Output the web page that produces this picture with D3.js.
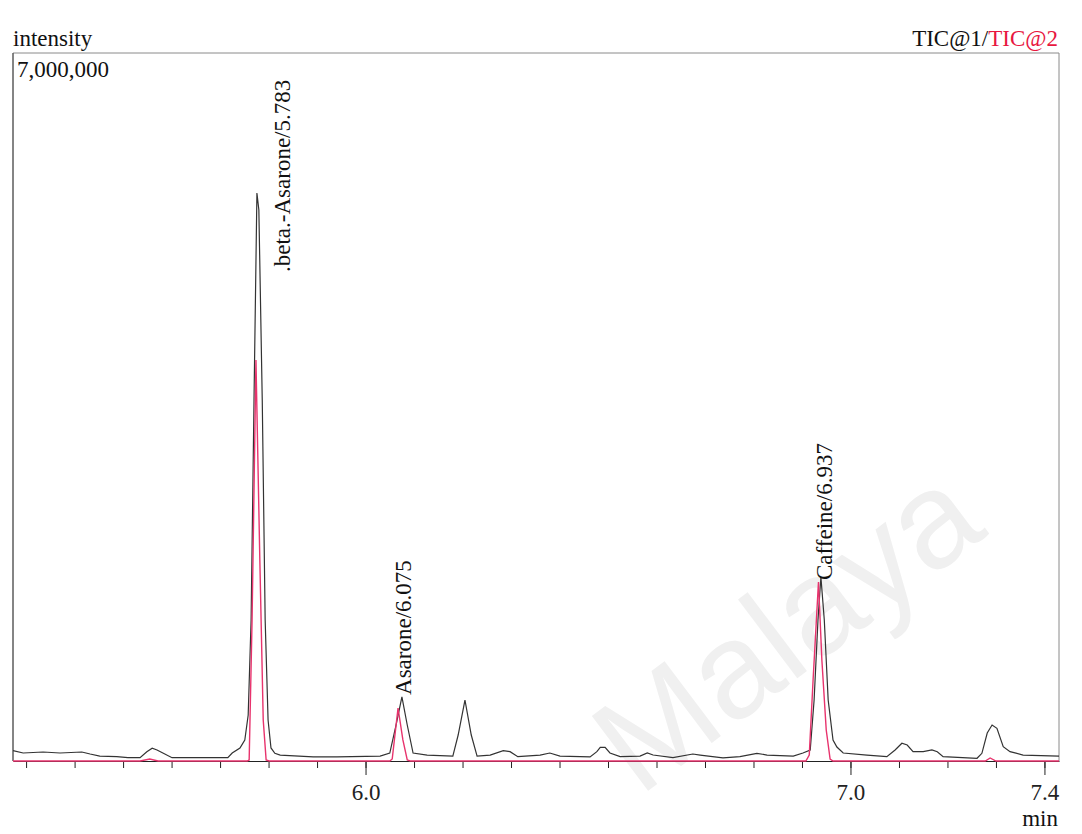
<!DOCTYPE html>
<html>
<head>
<meta charset="utf-8">
<script src="https://d3js.org/d3.v7.min.js"></script>
<style>
  body { margin: 0; background: #fff; }
  text { font-family: "Liberation Serif", "Times New Roman", serif; }
</style>
</head>
<body>
<svg width="1082" height="834"></svg>
<script>
// retention time (min), intensity
var tic1 = [
  [5.273, 102000], [5.294, 79000], [5.335, 89000], [5.370, 79000], [5.415, 89000],
  [5.432, 69000], [5.452, 49000], [5.487, 43000], [5.510, 33000], [5.535, 33000],
  [5.549, 92000], [5.560, 126000], [5.570, 109000], [5.582, 79000], [5.601, 33000],
  [5.652, 33000], [5.716, 33000], [5.725, 79000], [5.741, 129000], [5.751, 208000],
  [5.758, 455000], [5.764, 1394000], [5.770, 3569000], [5.776, 5616000], [5.780, 5448000],
  [5.787, 3569000], [5.793, 1394000], [5.799, 405000], [5.805, 129000], [5.813, 76000],
  [5.824, 59000], [5.892, 40000], [5.941, 40000], [6.030, 49000], [6.050, 79000],
  [6.063, 356000], [6.075, 633000], [6.086, 356000], [6.098, 79000], [6.127, 59000],
  [6.180, 49000], [6.191, 257000], [6.205, 603000], [6.218, 257000], [6.230, 49000],
  [6.257, 59000], [6.284, 102000], [6.298, 92000], [6.314, 43000], [6.360, 59000],
  [6.380, 79000], [6.401, 49000], [6.463, 40000], [6.477, 92000], [6.484, 135000],
  [6.494, 135000], [6.504, 79000], [6.525, 43000], [6.566, 49000], [6.581, 79000],
  [6.593, 59000], [6.634, 33000], [6.675, 69000], [6.690, 59000], [6.737, 30000],
  [6.772, 43000], [6.807, 76000], [6.828, 59000], [6.882, 49000], [6.902, 79000],
  [6.917, 109000], [6.925, 603000], [6.933, 1394000], [6.939, 1819000], [6.946, 1394000],
  [6.954, 603000], [6.964, 208000], [6.972, 138000], [6.985, 79000], [7.034, 59000],
  [7.075, 43000], [7.092, 109000], [7.106, 175000], [7.117, 158000], [7.129, 92000],
  [7.150, 92000], [7.168, 109000], [7.179, 92000], [7.191, 43000], [7.261, 27000],
  [7.271, 76000], [7.282, 277000], [7.292, 356000], [7.302, 323000], [7.315, 141000],
  [7.329, 92000], [7.356, 59000], [7.430, 49000]
];

var tic2 = [
  [5.273, 0], [5.535, 0], [5.555, 20000], [5.572, 0], [5.756, 0],
  [5.760, 10000], [5.766, 1394000], [5.774, 3965000], [5.782, 1987000], [5.789, 405000],
  [5.795, 10000], [5.801, 0], [6.050, 0], [6.055, 20000], [6.067, 524000],
  [6.077, 208000], [6.086, 10000], [6.092, 0], [6.908, 0], [6.915, 59000],
  [6.923, 811000], [6.934, 1770000], [6.941, 999000], [6.950, 306000], [6.958, 20000],
  [6.964, 0], [7.278, 0], [7.288, 30000], [7.300, 0], [7.430, 0]
];

var peakNames = [".beta.-Asarone", "Asarone", "Caffeine"];
var peakTimes = ["5.783", "6.075", "6.937"];
var peakHeights = [5616000, 633000, 1819000];

var majorTicks = [6.0, 7.0, 7.4];
var minorTicks = d3.range(53, 75).map(function(d) { return d / 10; });

function draw() {
  var svg = d3.select('svg');
  var pl = 13, pr = 1059, pt = 53, pb = 761;

  var x = d3.scaleLinear().domain([5.273, 7.43]).range([pl, pr]);
  var y = d3.scaleLinear().domain([0, 7000000]).range([pb, pt]);

  // watermark
  svg.append('text')
    .attr('transform', 'translate(786,628) rotate(-37)')
    .attr('text-anchor', 'middle')
    .attr('dominant-baseline', 'central')
    .style('font-family', '"Liberation Sans", Arial, sans-serif')
    .style('font-size', '136px')
    .attr('fill', '#f0f0f0')
    .text('Malaya');

  // frame
  svg.append('path')
    .attr('d', 'M' + pl + ',' + pb + 'V' + pt + 'H' + pr + 'V' + pb)
    .attr('fill', 'none')
    .attr('stroke', '#8a8a8a')
    .attr('stroke-width', 1);
  svg.append('line')
    .attr('x1', pl).attr('x2', pl).attr('y1', pt).attr('y2', pb)
    .attr('stroke', '#444');

  // axis
  svg.append('g')
    .attr('transform', 'translate(0,' + pb + ')')
    .call(d3.axisBottom(x).tickValues(minorTicks).tickSize(7).tickSizeOuter(0).tickFormat(''))
    .call(function(g) { g.selectAll('line,path').attr('stroke', '#222'); });

  var major = svg.append('g')
    .attr('transform', 'translate(0,' + pb + ')')
    .call(d3.axisBottom(x).tickValues(majorTicks).tickSize(14).tickSizeOuter(0)
          .tickFormat(d3.format('.1f')));
  major.select('.domain').remove();
  major.selectAll('line').attr('stroke', '#222');
  major.selectAll('text')
    .attr('y', 39).attr('dy', 0)
    .style('font-family', '"Liberation Serif", serif')
    .style('font-size', '23px')
    .attr('fill', '#222');

  var line = d3.line()
    .x(function(d) { return x(d[0]); })
    .y(function(d) { return y(d[1]); });

  svg.append('path')
    .datum(tic1)
    .attr('d', line)
    .attr('fill', 'none')
    .attr('stroke', '#333')
    .attr('stroke-width', 1.2);

  svg.append('path')
    .datum(tic2)
    .attr('d', line)
    .attr('fill', 'none')
    .attr('stroke', '#e8336d')
    .attr('stroke-width', 1.4);

  // peak labels
  var labelShift = [[30, 79], [9, -2], [12, 3]];
  svg.append('g').selectAll('text')
    .data(peakNames).enter().append('text')
    .attr('transform', function(d, i) {
      return 'translate(' + (x(+peakTimes[i]) + labelShift[i][0]) + ',' +
        (y(peakHeights[i]) + labelShift[i][1]) + ') rotate(-90)';
    })
    .style('font-size', '23px')
    .attr('fill', '#111')
    .text(function(d, i) { return d + '/' + peakTimes[i]; });

  svg.append('text')
    .attr('x', 13).attr('y', 46)
    .style('font-size', '23px').attr('fill', '#111')
    .text('intensity');

  svg.append('text')
    .attr('x', 17).attr('y', 77)
    .style('font-size', '23px').attr('fill', '#111')
    .text(d3.format(',')(7000000));

  var legend = svg.append('text')
    .attr('x', 1058).attr('y', 46)
    .attr('text-anchor', 'end')
    .style('font-size', '23px');
  legend.append('tspan').attr('fill', '#111').text('TIC@1/');
  legend.append('tspan').attr('fill', '#e8173f').text('TIC@2');

  svg.append('text')
    .attr('x', 1058).attr('y', 826)
    .attr('text-anchor', 'end')
    .style('font-size', '23px').attr('fill', '#111')
    .text('min');
}

draw();
</script>
</body>
</html>
